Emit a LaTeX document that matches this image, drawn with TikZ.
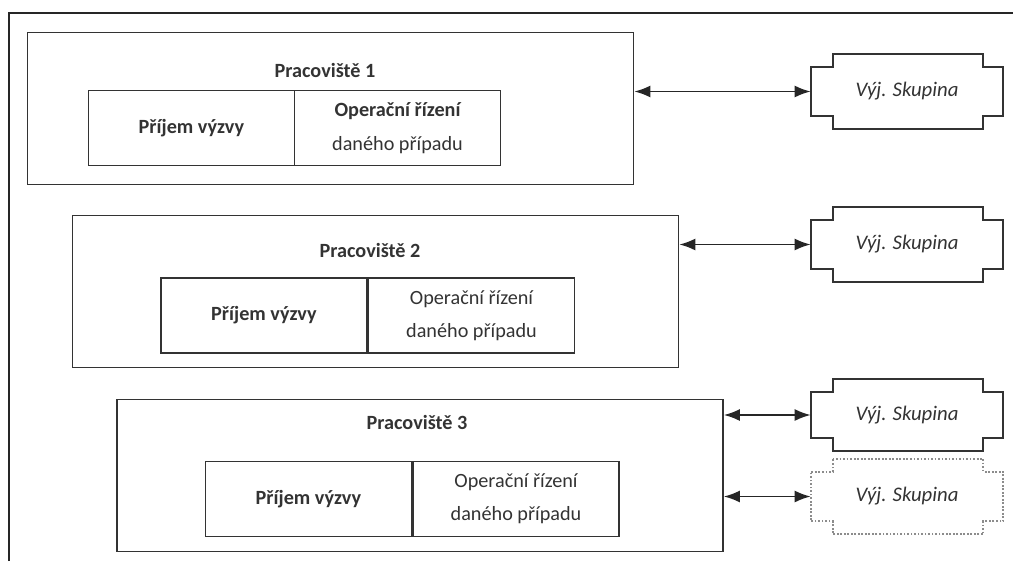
\documentclass[tikz,border=0pt]{standalone}
\usepackage{fontspec}
\setmainfont{Carlito}
\usepackage{tikz}
\usetikzlibrary{arrows.meta,calc}
\definecolor{ink}{HTML}{333333}

\tikzset{
  frame/.style={draw=ink, line width=1pt, minimum width=12.12cm, minimum height=3.04cm, inner sep=0pt},
  cell/.style={draw=ink, line width=1pt, minimum width=4.12cm, minimum height=1.5cm, inner sep=0pt, text=ink, align=center, font=\fontsize{11.5}{19}\selectfont},
  title/.style={text=ink, font=\bfseries\fontsize{11.5}{13}\selectfont},
  group/.style={minimum width=3.84cm, minimum height=1.5cm, inner sep=0pt, text=ink, font=\itshape\fontsize{11.8}{13}\selectfont},
  link/.style={{Latex[length=3.2mm,width=2.4mm]}-{Latex[length=3.2mm,width=2.4mm]}, line width=1pt, draw=black!85}
}
% notched outline round a group node
\newcommand{\vyjoutline}[2][]{%
  \draw[ink, line width=1pt, #1] ($(#2.north west)+(0.44cm,0cm)$) -- ($(#2.north east)+(-0.4cm,0cm)$)
    -- ++(0cm,-0.26cm) -- ++(0.4cm,0cm) -- ($(#2.south east)+(0cm,0.26cm)$)
    -- ++(-0.4cm,0cm) -- ++(0cm,-0.26cm) -- ($(#2.south west)+(0.44cm,0cm)$)
    -- ++(0cm,0.26cm) -- ++(-0.44cm,0cm) -- ($(#2.north west)+(0cm,-0.26cm)$)
    -- ++(0.44cm,0cm) -- cycle;}

\begin{document}
\begin{tikzpicture}[x=0.02cm, y=-0.02cm]
\useasboundingbox (0,0) rectangle (1013,561);
\draw[line width=1.3pt, black!85] (9,561) -- (9,13) -- (1013,13);

% Pracoviste 1
\node[frame] (p1) at (330.5,108.5) {};
\node[title] (t1) at (325,70) {Pracoviště 1};
\node[cell] (a1) at (191.5,128) {\bfseries Příjem výzvy};
\node[cell] (b1) at (397.5,128) {\bfseries Operační řízení\\daného případu};

% Pracoviste 2
\node[frame] (p2) at (375.5,291.5) {};
\node[title] (t2) at (370,250) {Pracoviště 2};
\node[cell] (a2) at (264,315.5) {\bfseries Příjem výzvy};
\node[cell] (b2) at (471.5,315.5) {Operační řízení\\daného případu};

% Pracoviste 3
\node[frame] (p3) at (420,475.5) {};
\node[title] (t3) at (417,422) {Pracoviště 3};
\node[cell] (a3) at (308.5,499) {\bfseries Příjem výzvy};
\node[cell] (b3) at (516,499) {Operační řízení\\daného případu};

% vyjezdove skupiny
\node[group] (s1) at (907,91.5) {Výj. Skupina};
\node[group] (s2) at (907,244.5) {Výj. Skupina};
\node[group, minimum height=1.44cm] (s3) at (907,415) {Výj. Skupina};
\node[group] (s4) at (907,496.5) {Výj. Skupina};
\vyjoutline{s1}
\vyjoutline{s2}
\vyjoutline{s3}
\vyjoutline[black!45, densely dotted]{s4}

\draw[link] (p1.east |- s1.west) -- (s1.west);
\draw[link] (p2.east |- s2.west) -- (s2.west);
\draw[link] (p3.east |- s3.west) -- (s3.west);
\draw[link] (p3.east |- s4.west) -- (s4.west);
\end{tikzpicture}
\end{document}
